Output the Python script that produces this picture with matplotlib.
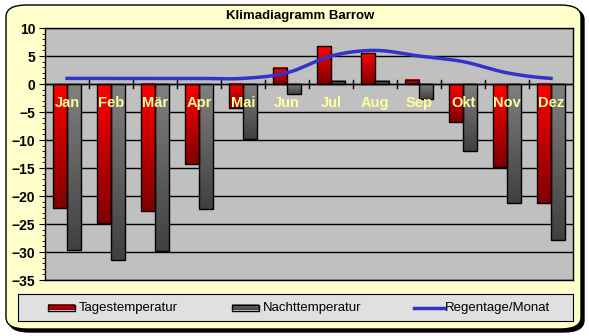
import numpy as np
import matplotlib
matplotlib.use("Agg")
import matplotlib.pyplot as plt
from matplotlib.patches import FancyBboxPatch, Rectangle
from matplotlib.lines import Line2D

plt.rcParams['font.family'] = ['Liberation Sans', 'DejaVu Sans']

months = ['Jan', 'Feb', 'Mär', 'Apr', 'Mai', 'Jun', 'Jul', 'Aug', 'Sep', 'Okt', 'Nov', 'Dez']
tag_temp = [-22.1, -24.8, -22.7, -14.2, -4.3, 2.9, 6.7, 5.5, 0.8, -6.7, -14.8, -21.3]
nacht_temp = [-29.6, -31.4, -29.9, -22.3, -9.9, -1.8, 0.6, 0.6, -2.7, -12.0, -21.3, -27.9]
regentage = [1, 1, 1, 1, 1, 2, 5, 6, 5, 4, 2, 1]


def smooth(xs, ys, n=20):
    # catmull-rom style smoothing like the Excel "smoothed line"
    xs = np.asarray(xs, float)
    ys = np.asarray(ys, float)
    px = np.concatenate([[2 * xs[0] - xs[1]], xs, [2 * xs[-1] - xs[-2]]])
    py = np.concatenate([[ys[0]], ys, [ys[-1]]])
    ox, oy = [], []
    for i in range(1, len(px) - 2):
        t = np.linspace(0, 1, n, endpoint=False)
        for p, o in ((px, ox), (py, oy)):
            p0, p1, p2, p3 = p[i - 1], p[i], p[i + 1], p[i + 2]
            o.extend(0.5 * ((2 * p1) + (-p0 + p2) * t
                            + (2 * p0 - 5 * p1 + 4 * p2 - p3) * t ** 2
                            + (-p0 + 3 * p1 - 3 * p2 + p3) * t ** 3))
    ox.append(xs[-1])
    oy.append(ys[-1])
    return np.array(ox), np.array(oy)


def grad_img(top_col, bot_col, n=64):
    c1 = np.array(matplotlib.colors.to_rgb(top_col))
    c2 = np.array(matplotlib.colors.to_rgb(bot_col))
    t = np.linspace(0, 1, n)[:, None]
    return (c1 * (1 - t) + c2 * t)[:, None, :]


def gradient_bar(ax, bar, top_col, bot_col):
    x0, y0 = bar.get_x(), bar.get_y()
    w, h = bar.get_width(), bar.get_height()
    lo, hi = min(y0, y0 + h), max(y0, y0 + h)
    ax.imshow(grad_img(top_col, bot_col), extent=(x0, x0 + w, lo, hi), origin='upper',
              aspect='auto', zorder=2, interpolation='bilinear')
    ax.add_patch(Rectangle((x0, lo), w, hi - lo, fill=False, ec='black', lw=1, zorder=3))


fig = plt.figure(figsize=(5.89, 3.36), dpi=100)
fig.patch.set_facecolor('white')

# chart frame with shadow
W, H = 589, 336
fig.patches.append(FancyBboxPatch((9 / W, (336 - 332) / H), 575 / W, 324 / H,
                                  boxstyle='round,pad=0,rounding_size=0.035',
                                  transform=fig.transFigure, fc='black', ec='black', zorder=0))
fig.patches.append(FancyBboxPatch((6 / W, (336 - 329) / H), 575 / W, 324 / H,
                                  boxstyle='round,pad=0,rounding_size=0.035',
                                  transform=fig.transFigure, fc='#FFFFCC', ec='black', lw=1, zorder=1))

ax = fig.add_axes([45 / W, 56 / H, 528 / W, 252 / H])
ax.set_facecolor('#C0C0C0')
ax.set_zorder(2)

x = np.arange(len(months))
bw = 0.32
bars_t = ax.bar(x - bw / 2, tag_temp, bw, color='none', zorder=2)
bars_n = ax.bar(x + bw / 2, nacht_temp, bw, color='none', zorder=2)
for b in bars_t:
    gradient_bar(ax, b, '#FF0000', '#800000')
for b in bars_n:
    gradient_bar(ax, b, '#808080', '#404040')

sx, sy = smooth(x, regentage)
ax.plot(sx, sy, color='#3333CC', lw=2.5, zorder=4)

ax.set_xlim(-0.5, 11.5)
ax.set_ylim(-35, 10)
ax.set_yticks(np.arange(-35, 11, 5))
ax.set_yticks(np.arange(-35, 11, 1), minor=True)
ax.yaxis.grid(True, color='black', lw=1)
ax.set_axisbelow(True)
ax.tick_params(axis='y', which='major', length=4, labelsize=10, pad=3)
ax.tick_params(axis='y', which='minor', length=2)
for lab in ax.get_yticklabels():
    lab.set_fontweight('bold')
ax.set_xticks([])
for s in ax.spines.values():
    s.set_linewidth(1)

# zero axis with cross ticks
ax.axhline(0, color='black', lw=1, zorder=3)
for b in np.arange(0.5, 11.5, 1):
    ax.plot([b, b], [-0.7, 0.7], color='black', lw=1, zorder=3, clip_on=False)

for i, m in enumerate(months):
    ax.text(i, -3.4, m, ha='center', va='center', color='#FFFF99',
            fontsize=10.5, fontweight='bold', zorder=5)

fig.text(300 / W, 1 - 16 / H, 'Klimadiagramm Barrow', ha='center', va='center',
         fontsize=9.5, fontweight='bold')

# legend box
lax = fig.add_axes([18 / W, (336 - 321) / H, 555 / W, 27 / H])
lax.set_zorder(3)
lax.set_facecolor('#E0E0E0')
lax.set_xticks([])
lax.set_yticks([])
leg_items = [('Tagestemperatur', 30), ('Nachttemperatur', 214), ('Regentage/Monat', 396)]
for (label, xpos), kind in zip(leg_items, ['red', 'gray', 'line']):
    if kind == 'line':
        lax.add_line(Line2D([xpos, xpos + 30], [13.5, 13.5], color='#3333CC', lw=2.5))
    else:
        top, bot = ('#FF0000', '#800000') if kind == 'red' else ('#808080', '#404040')
        lax.imshow(grad_img(top, bot, 16), extent=(xpos, xpos + 27, 10.5, 16.5),
                   aspect='auto', origin='upper')
        lax.add_patch(Rectangle((xpos, 10.5), 27, 6, fill=False, ec='black', lw=1))
    lax.text(xpos + 31, 13.5, label, va='center', ha='left', fontsize=9.5)
lax.set_xlim(0, 555)
lax.set_ylim(0, 27)

fig.savefig('out.png', dpi=100)
